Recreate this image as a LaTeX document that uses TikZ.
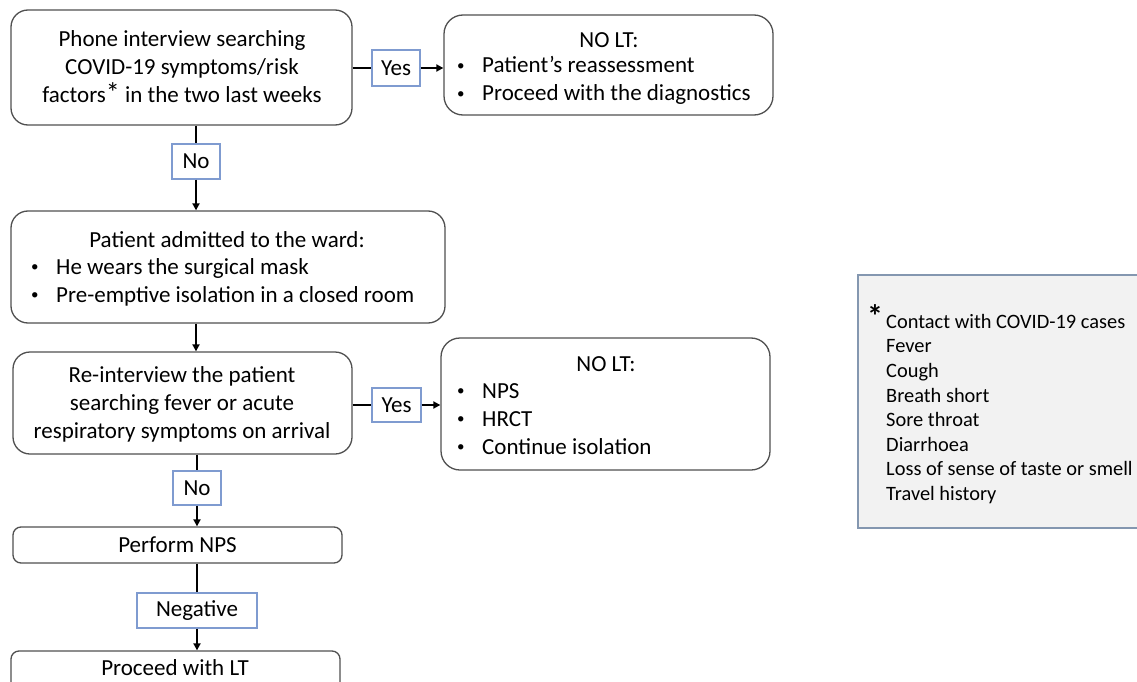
\documentclass[tikz,border=0pt]{standalone}
\usepackage{fontspec}
\setmainfont{Carlito}
\usetikzlibrary{arrows.meta}
\definecolor{boxgray}{HTML}{505050}
\definecolor{lblblue}{HTML}{7F9BD0}
\definecolor{legfill}{HTML}{F2F2F2}
\definecolor{legline}{HTML}{8497B0}
\newcommand\mainsz{\fontsize{23}{28}\selectfont}
\newcommand\legsz{\fontsize{20.4}{24.6}\selectfont}
\newcommand\bul[1]{\makebox[27pt][l]{\hspace{2pt}\raisebox{2.5pt}{\fontsize{15}{15}\selectfont•}}#1}
\tikzset{
  box/.style={draw=boxgray, line width=1.3pt, rounded corners=17pt, fill=white, inner sep=0pt},
  lbl/.style={draw=lblblue, line width=1.2pt, fill=white, font=\mainsz, inner sep=0pt},
  conn/.style={line width=2pt, black},
  arr/.style={conn, -{Triangle[length=7pt,width=7pt]}},
  txt/.style={font=\mainsz, align=center, inner sep=0pt},
  ltxt/.style={font=\mainsz, align=left, inner sep=0pt, anchor=west},
}
\begin{document}
\begin{tikzpicture}[x=1pt,y=-1pt]
\useasboundingbox (0,0) rectangle (1137,682);
\clip (0,0) rectangle (1137,682);
% boxes
\node[box, minimum width=341pt, minimum height=115pt] (b1) at (181.5,67.5) {};
\node[txt] (t1) at (182,67) {Phone interview searching\\COVID-19 symptoms/risk\\factors{\fontsize{28}{28}\selectfont*} in the two last weeks};
\node[lbl, minimum width=48pt, minimum height=36pt] (yes1) at (396,68) {Yes};
\node[box, rounded corners=19pt, minimum width=329pt, minimum height=100pt] (n1) at (608.5,65) {};
\node[txt] (n1t) at (609,40) {NO LT:};
\node[ltxt] (n1b) at (455,80.5) {\bul{Patient’s reassessment}\\\bul{Proceed with the diagnostics}};
\node[lbl, minimum width=48pt, minimum height=35pt] (no1) at (196,161.5) {No};
\node[box, minimum width=434pt, minimum height=112pt] (b2) at (228,267) {};
\node[txt] (b2t) at (227,240) {Patient admitted to the ward:};
\node[ltxt] (b2b) at (29,282) {\bul{He wears the surgical mask}\\\bul{Pre-emptive isolation in a closed room}};
\node[box, minimum width=339pt, minimum height=102pt] (b3) at (182.5,403) {};
\node[txt] (t3) at (182,404) {Re-interview the patient\\searching fever or acute\\respiratory symptoms on arrival};
\node[lbl, minimum width=49pt, minimum height=34pt] (yes2) at (396.5,405) {Yes};
\node[box, rounded corners=19pt, minimum width=329pt, minimum height=132pt] (n2) at (605.5,404) {};
\node[txt] (n2t) at (606,364) {NO LT:};
\node[ltxt] (n2b) at (455,419) {\bul{NPS}\\\bul{HRCT}\\\bul{Continue isolation}};
\node[lbl, minimum width=48pt, minimum height=34pt] (no2) at (197,488) {No};
\node[box, rounded corners=8pt, minimum width=329pt, minimum height=36pt, font=\mainsz] (nps) at (177.5,545) {Perform NPS};
\node[lbl, minimum width=120pt, minimum height=35pt] (neg) at (197,610.5) {Negative};
\node[box, rounded corners=8pt, minimum width=329pt, minimum height=58pt] (lt) at (175.5,680) {};
\node[txt] (ltt) at (175,668) {Proceed with LT};
% legend
\node[draw=legline, line width=1.2pt, fill=legfill, minimum width=282pt, minimum height=253pt, inner sep=0pt] (leg) at (999,401.5) {};
\node[inner sep=0pt, font=\fontsize{32}{32}\selectfont\bfseries] (star) at (875,316) {*};
\node[inner sep=0pt, font=\legsz, align=left, anchor=west] (legt) at (886,409) {Contact with COVID-19 cases\\Fever\\Cough\\Breath short\\Sore throat\\Diarrhoea\\Loss of sense of taste or smell\\Travel history};
% connectors
\draw[conn] (b1.east |- yes1.west) -- (yes1.west);
\draw[arr] (yes1.east) -- (n1.west |- yes1.east);
\draw[conn] (no1.north |- b1.south) -- (no1.north);
\draw[arr] (no1.south) -- (no1.south |- b2.north);
\draw[arr] (b2.south -| no1) -- (b3.north -| no1);
\draw[conn] (b3.east |- yes2.west) -- (yes2.west);
\draw[arr] (yes2.east) -- (n2.west |- yes2.east);
\draw[conn] (no2.north |- b3.south) -- (no2.north);
\draw[arr] (no2.south) -- (no2.south |- nps.north);
\draw[conn] (neg.north |- nps.south) -- (neg.north);
\draw[arr] (neg.south) -- (neg.south |- lt.north);
\end{tikzpicture}
\end{document}
